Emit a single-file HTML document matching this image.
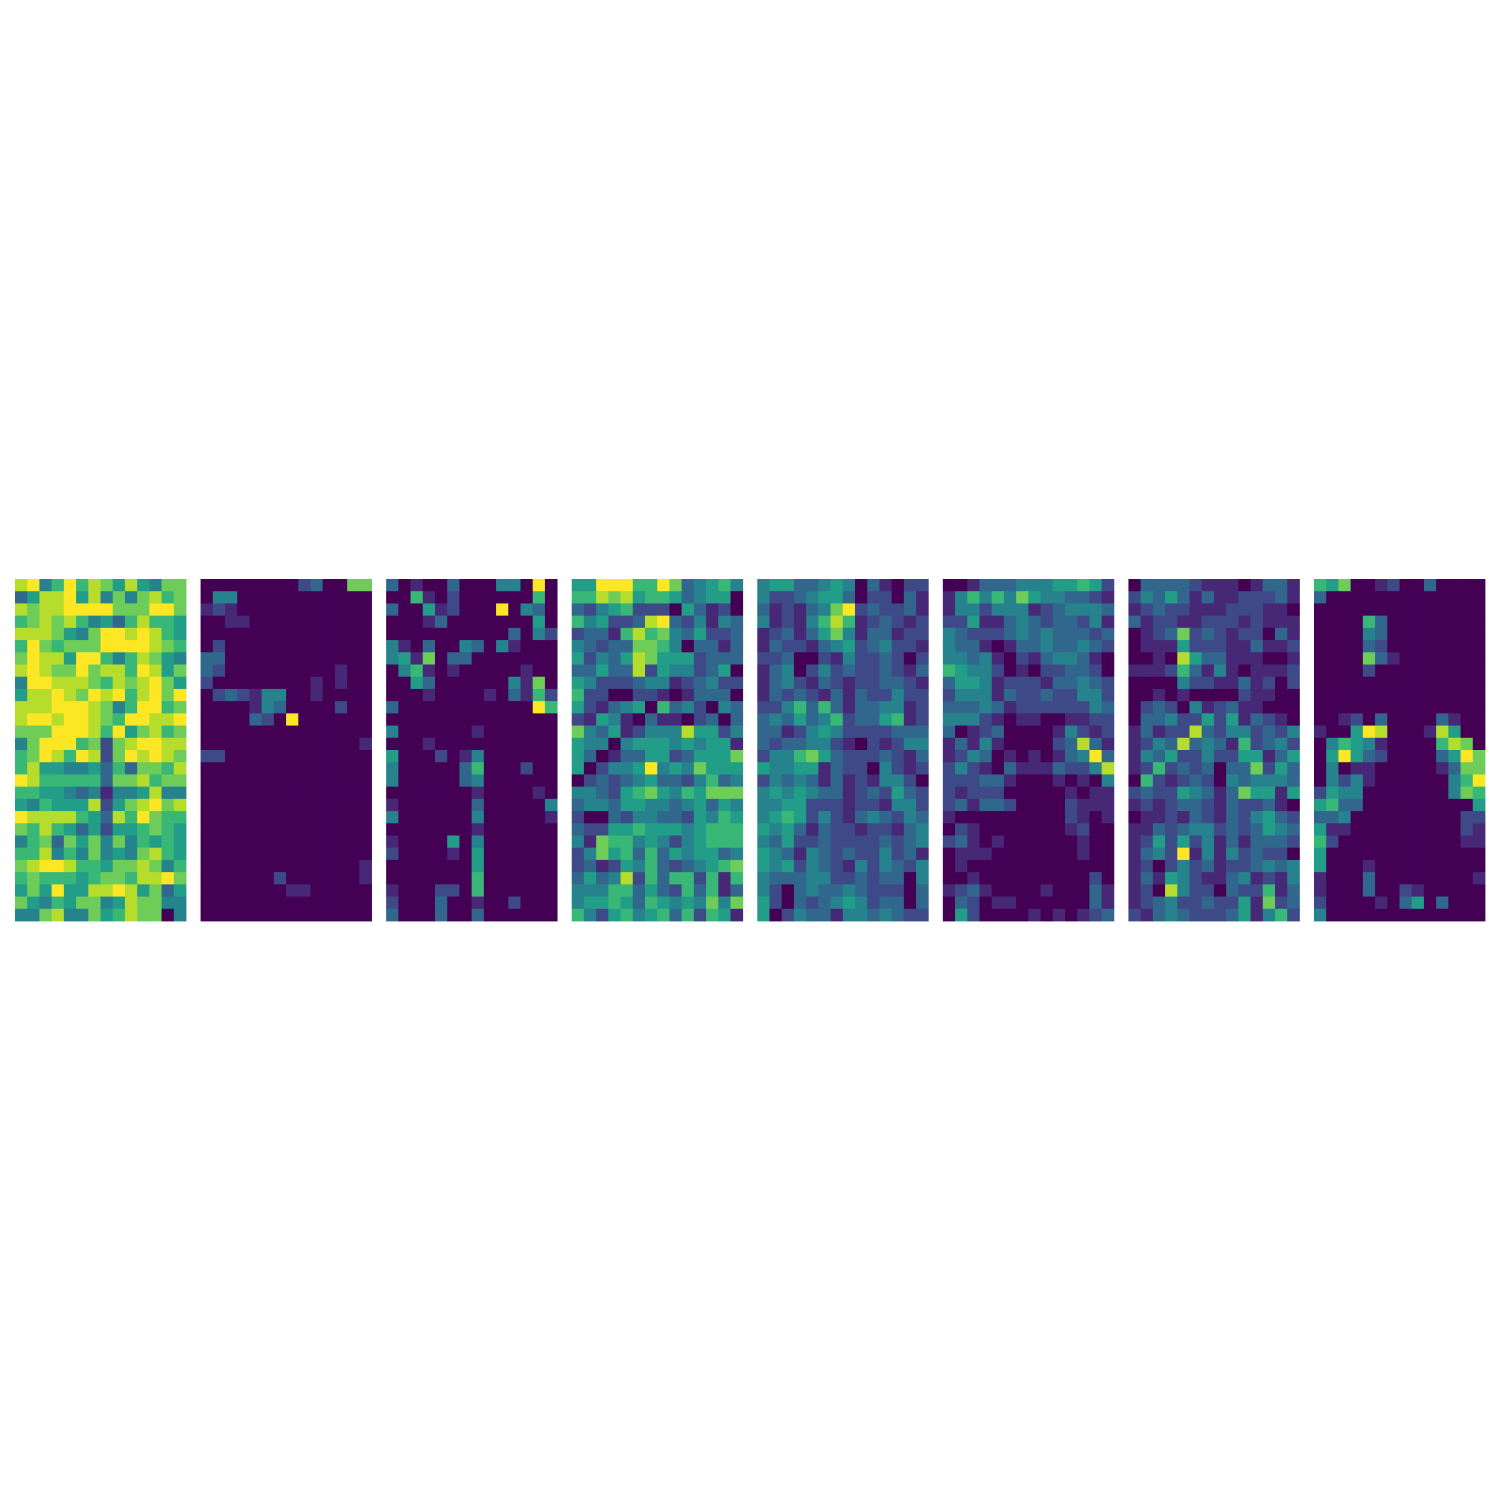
<!DOCTYPE html>
<html><head><meta charset="utf-8"><style>
html,body{margin:0;padding:0;background:#fff;}
svg{display:block;}
</style></head><body>
<svg id="chart" width="1500" height="1500" viewBox="0 0 1500 1500" xmlns="http://www.w3.org/2000/svg">
<rect x="0" y="0" width="1500" height="1500" fill="#ffffff"/>
</svg>
<script>
const panel1 = ["89469687585477","35889584747867","87889999777997","67878645368665","88875479989865","69767779999876","79885996468754","89877978869857","49988876878975","58898798968979","88899987469967","89989987699889","77799986957867","47999672789988","67986982798987","68554453637768","98666663778677","66554341445844","54655582578978","98888653869766","76865352556765","46737574746565","66846474547865","78998665778746","67666567768897","57595588985735","75465774587744","44784475687704"];
const panel2 = ["00000000230077","04400000000000","12100000000000","00110000000000","00000000000000","02000000000000","33000000000000","32000000000100","20000000010100","02321440010000","00001430000200","00003209000000","00000000000000","00000000000001","22000000000000","00000000000000","00000000000000","00000000000000","00000000000000","00000000000000","00000000000000","00000000000000","00000000000000","00000000000001","00000020000001","00000001100000","00000000000000","00000000000000"];
const panel3 = ["30100300044090","00610200000060","30051200090430","00013000000050","00000000003042","41030043041000","45170330000000","04610100000100","00530000004170","00010000103162","30000000000096","00000000000000","40000001000000","00010000000000","50002014000000","40000036000200","40000034000000","00000001000010","10000003000004","40000004000001","00000001000000","10000504000000","20000105000000","00000005000000","00000006000000","10002206000000","20003001002000","30003003000000"];
const panel4 = ["55999669734564","66878566534550","32456222053120","64522389324143","23316867435223","43233776403313","52435875552333","33533825442350","54222344123422","62200221013330","52134506342043","21541031102303","74351244485524","54404555454551","53013355235557","50244594547555","02323453324634","44325675465777","34435544345354","20032443325465","32255655545666","41766454245666","24756363545534","23125463234567","35348263662616","44466353263613","45565365454747","64256456362651"];
const panel5 = ["45533454031022","42234553022031","31213479232231","41214686123212","12313574133122","13221345234221","22300214223202","13402423223213","13421321223321","13232131322422","22463631334412","34353462335612","33124542222333","32334421021244","24467532223213","54455132204212","24343131214420","45454331232532","44552221221442","45652421343243","54531322122134","43522322223234","54314323224231","54524321424324","43334422323304","42034334322203","52032345423303","50243314434322"];
const panel6 = ["00133344455652","14646475443321","14424441234443","22511343233241","43222343433323","43310133433432","44341021344310","65442010223320","35541222133432","24441322322442","33343122222243","44421011001122","30123000014212","13141000023831","12430101013493","24210311132248","22233100010104","21222000001011","23133200002111","10000000002101","02100000001200","23101000000100","01110000000100","01000000000000","00100000000020","12310000100031","03201100000031","05200001010123"];
const panel7 = ["03333211101331","24353131122231","12322111222110","31221122212111","01237232122031","01115222113112","00108533111001","11126314101112","00004221131202","00101000021100","02320412311000","03342252513210","13122832442324","12438343162342","14352242255135","12623230337253","06212320434443","23225431375515","12123321322310","01121321324532","11323442323543","12525241313332","13429141423220","12024231223434","13154211341214","12084220322613","12342232251723","21343222351462"];
const panel8 = ["65700120030000","30000000000000","00000000000000","00006300000000","00004300000000","00003200000000","00007310000000","00002000000000","00000000000000","00000000000000","00000000000000","00120300003100","10059800018500","04654100006870","05953200003597","04011000001377","04241000000469","25440000000476","56330000000005","33400000000022","51100000000021","62000000000011","50000000000000","50001000000000","10003000000001","10003002100000","20000103503000","40000000000000"];

const panels = [panel1,panel2,panel3,panel4,panel5,panel6,panel7,panel8];
const vmax = 9;

const viridis = [[68,1,84],[72,36,117],[65,68,135],[53,95,141],[42,120,142],[33,145,140],[34,168,132],[68,191,112],[122,209,81],[189,223,38],[253,231,37]];
function cmap(t){
  t=Math.max(0,Math.min(1,t));
  const p=t*(viridis.length-1), i=Math.min(Math.floor(p),viridis.length-2), f=p-i;
  const a=viridis[i],b=viridis[i+1];
  return 'rgb('+a.map((v,k)=>Math.round(v+(b[k]-v)*f)).join(',')+')';
}
const left0=15, step=185.57, top0=579, pw=171, ph=342;
const svg=document.getElementById('chart');
const NS='http://www.w3.org/2000/svg';
panels.forEach((rows,pi)=>{
  const g=document.createElementNS(NS,'g');
  
  
  const nr=rows.length, nc=rows[0].length;
  const cw=pw/nc, ch=ph/nr;
  const x0=left0+pi*step;
  rows.forEach((row,r)=>{
    for(let c=0;c<nc;c++){
      const v=+row[c];
      const rect=document.createElementNS(NS,'rect');
      rect.setAttribute('x',(x0+c*cw).toFixed(2));
      rect.setAttribute('y',(top0+r*ch).toFixed(2));
      rect.setAttribute('width',(cw+0.4).toFixed(2));
      rect.setAttribute('height',(ch+0.4).toFixed(2));
      rect.setAttribute('fill',cmap(v/vmax));
      
      
      g.appendChild(rect);
    }
  });
  svg.appendChild(g);
});
</script>
</body></html>
